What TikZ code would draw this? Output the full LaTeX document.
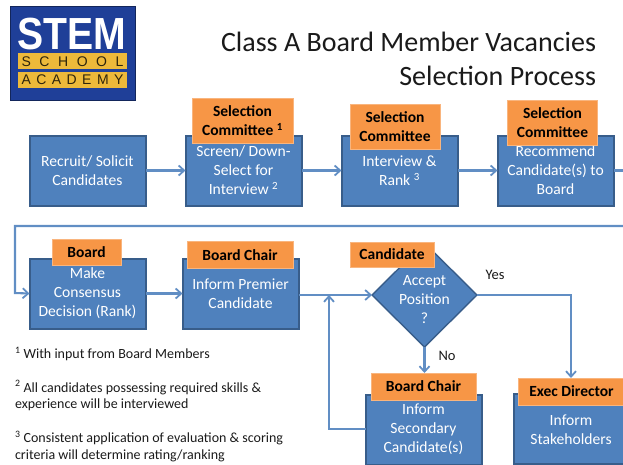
\documentclass[tikz,border=0pt]{standalone}
\usepackage{fontspec}
\usepackage{graphicx}
\setmainfont{Carlito}
\newfontfamily\logofont{Liberation Sans}
\usetikzlibrary{arrows.meta,shapes.geometric}
\definecolor{boxfill}{HTML}{4F81BD}
\definecolor{boxline}{HTML}{385D8A}
\definecolor{roleorange}{HTML}{F79646}
\definecolor{logoblue}{HTML}{1F3F98}
\definecolor{logogold}{HTML}{EDB93A}
\definecolor{inktext}{HTML}{1A1A1A}
\newcommand{\spread}[1]{\makebox[102pt][s]{#1}}
\tikzset{
  x=1pt,y=-1pt,
  every node/.style={outer sep=0pt,inner sep=0pt},
  stepbox/.style={draw=boxline,line width=2pt,fill=boxfill,minimum width=116pt,minimum height=70pt,text=white,align=center,font=\fontsize{15.6}{19}\selectfont},
  rolebox/.style={fill=roleorange,draw=roleorange!70!white,line width=.5pt,align=center,text=black,font=\bfseries\fontsize{15.5}{19}\selectfont},
  decision/.style={diamond,draw=boxline,line width=1.4pt,fill=boxfill,minimum width=105pt,minimum height=104pt},
  decisiontext/.style={text=white,align=center,font=\fontsize{15.6}{19}\selectfont},
  link/.style={draw=boxfill!90!white,line width=2.1pt,-{Straight Barb[length=5.5pt,width=10pt,line width=1.8pt]}},
  plainlink/.style={draw=boxfill!90!white,line width=2.1pt},
  branch/.style={text=inktext,font=\fontsize{14.5}{18}\selectfont},
  footnote/.style={anchor=north west,text=inktext,align=left,font=\fontsize{14}{16.5}\selectfont},
  titletext/.style={text=inktext,align=right,anchor=east,font=\fontsize{28}{34}\selectfont}
}
\begin{document}
\begin{tikzpicture}
\useasboundingbox (0,0) rectangle (623,464);
\clip (0,0) rectangle (623,464);
% logo
\node[fill=logoblue,draw=logoblue!60!black,line width=.6pt,minimum width=125pt,minimum height=94pt] (logo) at (72.5,53) {};
\node[fill=logogold,minimum width=109pt,minimum height=16pt] (logoa) at (72.5,61) {};
\node[fill=logogold,minimum width=109pt,minimum height=16pt] (logob) at (72.5,80) {};
\node[text=white] (stem) at (72,34.5) {\logofont\bfseries\fontsize{45}{45}\selectfont\scalebox{.87}[1]{STEM}};
\node[text=black!80!logogold] (school) at (72.5,61.5) {\logofont\fontsize{14}{14}\selectfont\spread{S\hfill C\hfill H\hfill O\hfill O\hfill L}};
\node[text=black!80!logogold] (academy) at (72.5,80) {\logofont\fontsize{14}{14}\selectfont\spread{A\hfill C\hfill A\hfill D\hfill E\hfill M\hfill Y}};
% title
\node[titletext] (title) at (596,59) {Class A Board Member Vacancies\\Selection Process};
% row 1
\node[stepbox] (recruit) at (87.5,170.5) {Recruit/ Solicit\\Candidates};
\node[stepbox] (screen) at (243.5,170.5) {Screen/ Down-\\Select for\\Interview \textsuperscript{2}};
\node[stepbox] (interview) at (399.5,170.5) {Interview \&\\Rank \textsuperscript{3}};
\node[stepbox] (recommend) at (555.5,170.5) {Recommend\\Candidate(s) to\\Board};
\node[rolebox,minimum width=101pt,minimum height=45pt] (rsel) at (242.5,120.5) {Selection\\Committee \textsuperscript{1}};
\node[rolebox,minimum width=90pt,minimum height=45pt] (rint) at (395,127) {Selection\\Committee};
\node[rolebox,minimum width=90pt,minimum height=45pt] (rrec) at (552.5,122.5) {Selection\\Committee};
% row 2
\node[stepbox] (consensus) at (87.5,293.5) {Make\\Consensus\\Decision (Rank)};
\node[stepbox] (premier) at (240.5,293.5) {Inform Premier\\Candidate};
\node[rolebox,minimum width=69pt,minimum height=26pt] (rboard) at (86.5,252) {Board};
\node[rolebox,minimum width=106pt,minimum height=27pt] (rchair) at (240,255) {Board Chair};
\node[decision] (accept) at (424.5,295) {};
\node[decisiontext] (accepttext) at (424.5,299.5) {Accept\\Position\\?};
\node[rolebox,minimum width=84pt,minimum height=25pt] (rcand) at (392,254.5) {Candidate};
% row 3
\node[stepbox,minimum height=70pt] (secondary) at (423.5,429.5) {Inform\\Secondary\\Candidate(s)};
\node[stepbox,minimum height=70pt] (stake) at (571.5,429) {};
\node[decisiontext] (staketext) at (571,429.5) {Inform\\Stakeholders};
\node[rolebox,minimum width=105pt,minimum height=27pt] (rsec) at (423.5,386.5) {Board Chair};
\node[rolebox,minimum width=107pt,minimum height=27pt] (rexec) at (571.5,391.5) {Exec Director};
% connectors
\coordinate (offright) at (623,170.5);
\coordinate (wrapr) at (623,226);
\coordinate (wrapl) at (15,226);
\coordinate (wrapd) at (15,293);
\coordinate (joinsec) at (329,429);
\coordinate (joinup) at (329,295);
\coordinate (yescorner) at (571,295);
\draw[link] (recruit) -- (screen);
\draw[link] (screen) -- (interview);
\draw[link] (interview) -- (recommend);
\draw[plainlink] (recommend) -- (offright);
\draw[link] (wrapr) -- (wrapl) -- (wrapd) -- (consensus.west);
\draw[link] (consensus) -- (premier.west |- consensus);
\draw[link] (premier.east |- accept) -- (accept.west);
\draw[link] (secondary.west |- joinsec) -- (joinsec) -- (joinup);
\draw[link] (accept.east) -- (yescorner) -- (rexec.north -| yescorner);
\draw[link] (accept.south) -- (rsec.north -| accept.south);
% branch labels
\node[branch] (yes) at (495,275) {Yes};
\node[branch] (no) at (447,355.5) {No};
% footnotes
\node[footnote] (fa) at (15,347) {\textsuperscript{1} With input from Board Members};
\node[footnote] (fb) at (15,380.5) {\textsuperscript{2} All candidates possessing required skills \&\\experience will be interviewed};
\node[footnote] (fc) at (15,431) {\textsuperscript{3} Consistent application of evaluation \& scoring\\criteria will determine rating/ranking};
\end{tikzpicture}
\end{document}
